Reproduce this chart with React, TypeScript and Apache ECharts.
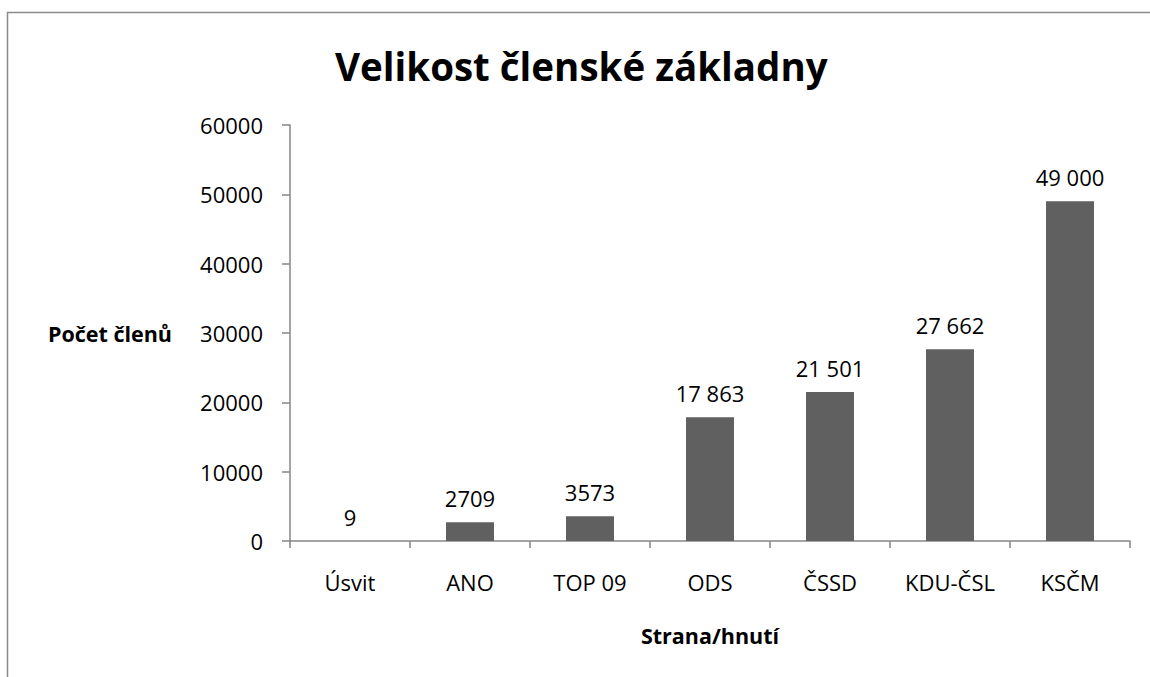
import React, { useEffect, useRef } from "react";
import * as echarts from "echarts";

const categories = ["Úsvit", "ANO", "TOP 09", "ODS", "ČSSD", "KDU-ČSL", "KSČM"];
const members = [9, 2709, 3573, 17863, 21501, 27662, 49000];
const valueLabels = ["9", "2709", "3573", "17 863", "21 501", "27 662", "49 000"];
const yTicks = { min: 0, max: 60000, interval: 10000 };

const FONT = "'Open Sans', 'DejaVu Sans', sans-serif";

export default function App() {
  const ref = useRef<HTMLDivElement>(null);
  useEffect(() => {
    if (!ref.current) return;
    const chart = echarts.init(ref.current, undefined, { renderer: "svg" });
    chart.setOption({
      animation: false,
      backgroundColor: "#ffffff",
      textStyle: { fontFamily: FONT },
      title: {
        text: "Velikost členské základny",
        left: 330,
        top: 41,
        textStyle: { fontFamily: FONT, fontWeight: "bold", fontSize: 38.5, color: "#000000" },
      },
      graphic: [
        {
          type: "polyline",
          shape: { points: [[7.5, 680], [7.5, 12.5], [1150, 12.5]] },
          style: { stroke: "#8a8a8a", lineWidth: 1.5, fill: "none" },
          silent: true,
        },
      ],
      grid: { left: 290, right: 20, top: 125, bottom: 136, containLabel: false },
      xAxis: {
        type: "category",
        data: categories,
        name: "Strana/hnutí",
        nameLocation: "middle",
        nameGap: 83,
        nameTextStyle: { fontFamily: FONT, fontWeight: "bold", fontSize: 21.5, color: "#000000", verticalAlign: "top" },
        axisLine: { lineStyle: { color: "#868686", width: 1.5 } },
        axisTick: { show: true, length: 7, lineStyle: { color: "#868686", width: 1.5 } },
        axisLabel: { fontFamily: FONT, fontSize: 22, color: "#000000", margin: 30 },
        splitLine: { show: false },
      },
      yAxis: {
        type: "value",
        min: yTicks.min,
        max: yTicks.max,
        interval: yTicks.interval,
        name: "Počet členů",
        nameLocation: "middle",
        nameRotate: 0,
        nameGap: 118,
        nameTextStyle: { fontFamily: FONT, fontWeight: "bold", fontSize: 21.5, color: "#000000", align: "right" },
        axisLine: { show: true, lineStyle: { color: "#868686", width: 1.5 } },
        axisTick: { show: true, length: 8, lineStyle: { color: "#868686", width: 1.5 } },
        axisLabel: {
          fontFamily: FONT,
          fontSize: 22,
          color: "#000000",
          margin: 27,
          formatter: (v: number) => String(v),
        },
        splitLine: { show: false },
      },
      series: [
        {
          type: "bar",
          data: members,
          barWidth: 48,
          itemStyle: { color: "#606060" },
          label: {
            show: true,
            position: "top",
            distance: 13,
            fontFamily: FONT,
            fontSize: 22,
            color: "#000000",
            formatter: (p: any) => valueLabels[p.dataIndex],
          },
        },
      ],
    });
    return () => chart.dispose();
  }, []);
  return (
    <div
      ref={ref}
      style={{ position: "fixed", left: 0, top: 0, width: 1150, height: 677 }}
    />
  );
}
